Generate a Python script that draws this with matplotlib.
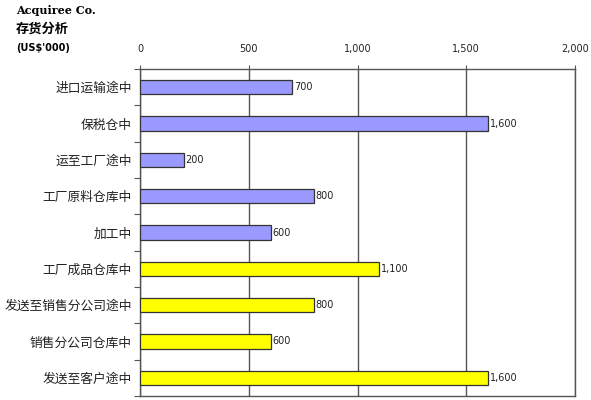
import matplotlib
matplotlib.use("Agg")
import matplotlib.pyplot as plt
from matplotlib.ticker import FuncFormatter, FixedLocator

plt.rcParams["font.family"] = ["Noto Sans CJK SC", "DejaVu Sans"]

# ── Data ──────────────────────────────────────────────────────────────
categories = ["进口运输途中", "保税仓中", "运至工厂途中", "工厂原料仓库中", "加工中",
              "工厂成品仓库中", "发送至销售分公司途中", "销售分公司仓库中", "发送至客户途中"]
values = [700, 1600, 200, 800, 600, 1100, 800, 600, 1600]
groups = ["raw", "raw", "raw", "raw", "raw", "fin", "fin", "fin", "fin"]
x_ticks = [0, 500, 1000, 1500, 2000]

GROUP_COLORS = {"raw": "#9999ff", "fin": "#ffff00"}
EDGE = "#333333"
GRID = "#555555"

fig = plt.figure(figsize=(5.91, 4.0), dpi=100)
fig.patch.set_facecolor("white")
ax = fig.add_axes([140 / 591, 4 / 400, 435 / 591, 327 / 400])

ypos = list(range(len(categories)))
ax.barh(ypos, values, height=0.4,
        color=[GROUP_COLORS[g] for g in groups],
        edgecolor=EDGE, linewidth=0.9, zorder=3)

for y, v in zip(ypos, values):
    ax.text(v + 8, y, f"{v:,}", va="center", ha="left",
            fontsize=7, color="#222222", family="DejaVu Sans", zorder=4)

ax.set_xlim(0, 2000)
ax.set_ylim(len(categories) - 0.5, -0.5)

ax.xaxis.set_major_locator(FixedLocator(x_ticks))
ax.xaxis.set_major_formatter(FuncFormatter(lambda v, _: f"{int(v):,}"))
ax.xaxis.tick_top()
ax.tick_params(axis="x", top=True, bottom=False, length=3, color=GRID,
               labelsize=7, labelcolor="#222222", pad=8)
for lab in ax.get_xticklabels():
    lab.set_family("DejaVu Sans")

ax.set_yticks([y + 0.5 for y in [-1] + ypos], minor=False)
ax.set_yticklabels([])
ax.set_yticks(ypos, minor=True)
ax.set_yticklabels(categories, minor=True)
ax.tick_params(axis="y", which="major", length=4, color=GRID, left=True)
ax.tick_params(axis="y", which="minor", length=0, labelsize=9.2,
               labelcolor="#222222", pad=6)

ax.grid(axis="x", color=GRID, linewidth=1.0, zorder=0)
for sp in ax.spines.values():
    sp.set_edgecolor(GRID)
    sp.set_linewidth(1.0)

fig.text(16 / 591, 1 - 10 / 400, "Acquiree Co.", fontsize=8, fontweight="bold",
         family="DejaVu Serif", va="center", ha="left")
fig.text(16 / 591, 1 - 29 / 400, "存货分析", fontsize=9.5, fontweight="bold",
         va="center", ha="left")
fig.text(16 / 591, 1 - 48 / 400, "(US$'000)", fontsize=7, fontweight="bold",
         family="DejaVu Sans", va="center", ha="left")

fig.savefig("out.png", dpi=100, facecolor="white")
